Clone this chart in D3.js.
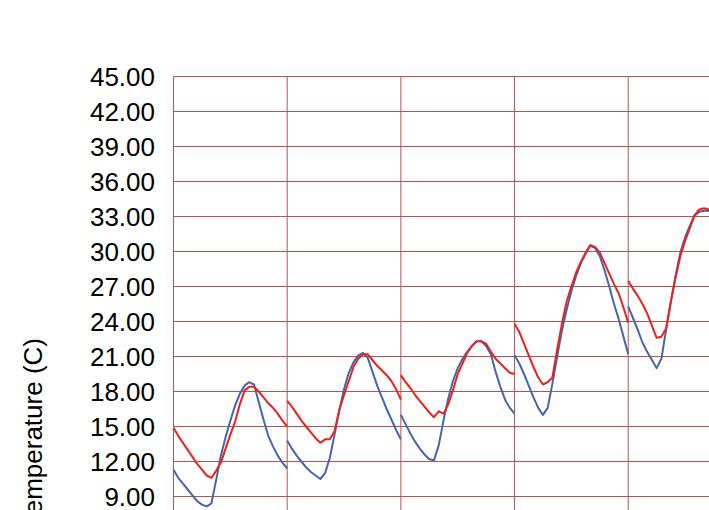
<!DOCTYPE html>
<html>
<head>
  <meta charset="utf-8">
  <title>Temperature</title>
  <script src="https://cdnjs.cloudflare.com/ajax/libs/d3/7.8.5/d3.min.js"></script>
  <style type="text/css">
    body {
      margin: 0;
      background: #fff;
      font-family: "Liberation Sans", Arial, Helvetica, sans-serif;
    }
    .grid line {
      stroke: #b4554d;
      stroke-width: 1;
    }
    .grid path {
      display: none;
    }
    .axis text {
      font-size: 26px;
      fill: #000;
    }
    .temp {
      fill: none;
      stroke-width: 2;
      stroke-linejoin: round;
    }
  </style>
</head>
<body>
  <svg id="chart"></svg>
  <script type="text/javascript">

  // hourly readings, one array per day (hour 0..24), last day is cut off at the edge
  const hours = d3.range(0, 25);

  const redDays = [
    [14.9, 14.2, 13.6, 13.0, 12.4, 11.8, 11.3, 10.8, 10.6, 11.2, 11.9, 13.1, 14.3, 15.4, 16.9, 18.1, 18.4, 18.4, 18.0, 17.5, 17.0, 16.6, 16.1, 15.5, 15.0],
    [17.2, 16.7, 16.1, 15.5, 15.0, 14.5, 14.0, 13.6, 13.9, 13.9, 14.6, 16.4, 17.7, 18.9, 20.1, 20.8, 21.2, 21.2, 20.7, 20.2, 19.8, 19.4, 18.9, 18.2, 17.3],
    [19.4, 18.8, 18.3, 17.7, 17.2, 16.7, 16.2, 15.8, 16.3, 16.1, 16.9, 18.1, 19.5, 20.4, 21.3, 21.9, 22.3, 22.3, 22.1, 21.4, 20.8, 20.4, 20.0, 19.6, 19.5],
    [23.8, 23.1, 22.1, 21.1, 20.1, 19.2, 18.6, 18.8, 19.2, 21.6, 23.8, 25.7, 27.0, 28.2, 29.1, 29.9, 30.55, 30.4, 29.9, 29.0, 28.1, 27.2, 26.4, 25.2, 23.9],
    [27.5, 26.8, 26.2, 25.5, 24.7, 23.65, 22.6, 22.7, 23.4, 25.7, 27.8, 29.6, 30.9, 32.0, 33.1, 33.6, 33.7, 33.6, 33.4]
  ];

  const blueDays = [
    [11.3, 10.6, 10.1, 9.6, 9.1, 8.6, 8.3, 8.15, 8.4, 10.4, 12.5, 14.1, 15.5, 16.8, 17.8, 18.5, 18.8, 18.6, 17.1, 15.6, 14.2, 13.3, 12.5, 11.9, 11.4],
    [13.8, 13.1, 12.5, 12.0, 11.5, 11.1, 10.8, 10.5, 11.0, 12.3, 14.3, 16.4, 18.2, 19.6, 20.5, 21.1, 21.3, 20.9, 19.7, 18.5, 17.5, 16.5, 15.6, 14.7, 13.9],
    [16.0, 15.2, 14.4, 13.7, 13.1, 12.6, 12.2, 12.1, 13.4, 15.5, 17.4, 18.9, 20.0, 20.8, 21.4, 21.9, 22.3, 22.3, 21.9, 21.2, 19.7, 18.4, 17.3, 16.6, 16.1],
    [21.1, 20.4, 19.5, 18.5, 17.5, 16.6, 16.0, 16.6, 18.7, 21.0, 23.2, 25.0, 26.6, 27.9, 29.0, 29.8, 30.5, 30.3, 29.6, 28.4, 27.0, 25.5, 24.2, 22.7, 21.2],
    [25.3, 24.3, 23.3, 22.2, 21.4, 20.7, 20.0, 20.8, 23.3, 25.7, 27.9, 29.9, 31.2, 32.2, 33.1, 33.4, 33.5, 33.5, 33.3]
  ];

  const yTicks = d3.range(0, 46, 3);
  const yTitle = 'Temperature (C)';

  createChart('#chart');

  function createChart(element_id) {
    const width = 709, height = 510;
    const margin = {left: 173.5, top: 76.5};
    const plotW = 568.4, plotH = 525;

    const svg = d3.select(element_id)
      .attr('width', width)
      .attr('height', height);

    svg.append('rect')
      .attr('width', width)
      .attr('height', height)
      .attr('fill', '#fff');

    const x = d3.scaleLinear().domain([0, 24 * redDays.length]).range([0, plotW]);
    const y = d3.scaleLinear().domain([0, 45]).range([plotH, 0]);

    const g = svg.append('g')
      .attr('transform', `translate(${margin.left},${margin.top})`);

    // horizontal grid + labels
    g.append('g')
      .attr('class', 'grid axis')
      .call(d3.axisLeft(y)
        .offset(0)
        .tickValues(yTicks)
        .tickSize(-plotW)
        .tickPadding(18.5)
        .tickFormat(d3.format('.2f')))
      .selectAll('text')
      .attr('dy', '0.36em');

    // vertical grid at each day
    g.append('g')
      .attr('class', 'grid')
      .attr('transform', `translate(0,${plotH})`)
      .call(d3.axisBottom(x)
        .offset(0)
        .tickValues(d3.range(0, 24 * redDays.length + 1, 24))
        .tickSize(-plotH)
        .tickFormat(''));

    const line = d3.line()
      .x((d) => x(d.t))
      .y((d) => y(d.v));

    const toPoints = (vals, day) => vals.map((v, i) => ({t: day * 24 + hours[i], v: v}));

    // blue under red
    g.selectAll('path.blue')
      .data(blueDays.map(toPoints))
      .enter().append('path')
      .attr('class', 'temp blue')
      .attr('stroke', '#4565ad')
      .attr('d', line);

    g.selectAll('path.red')
      .data(redDays.map(toPoints))
      .enter().append('path')
      .attr('class', 'temp red')
      .attr('stroke', '#e8231f')
      .attr('d', line);

    svg.append('text')
      .attr('transform', 'translate(41.5,338) rotate(-90)')
      .attr('text-anchor', 'end')
      .attr('font-size', 26)
      .attr('fill', '#000')
      .text(yTitle);
  }
  </script>
</body>
</html>
